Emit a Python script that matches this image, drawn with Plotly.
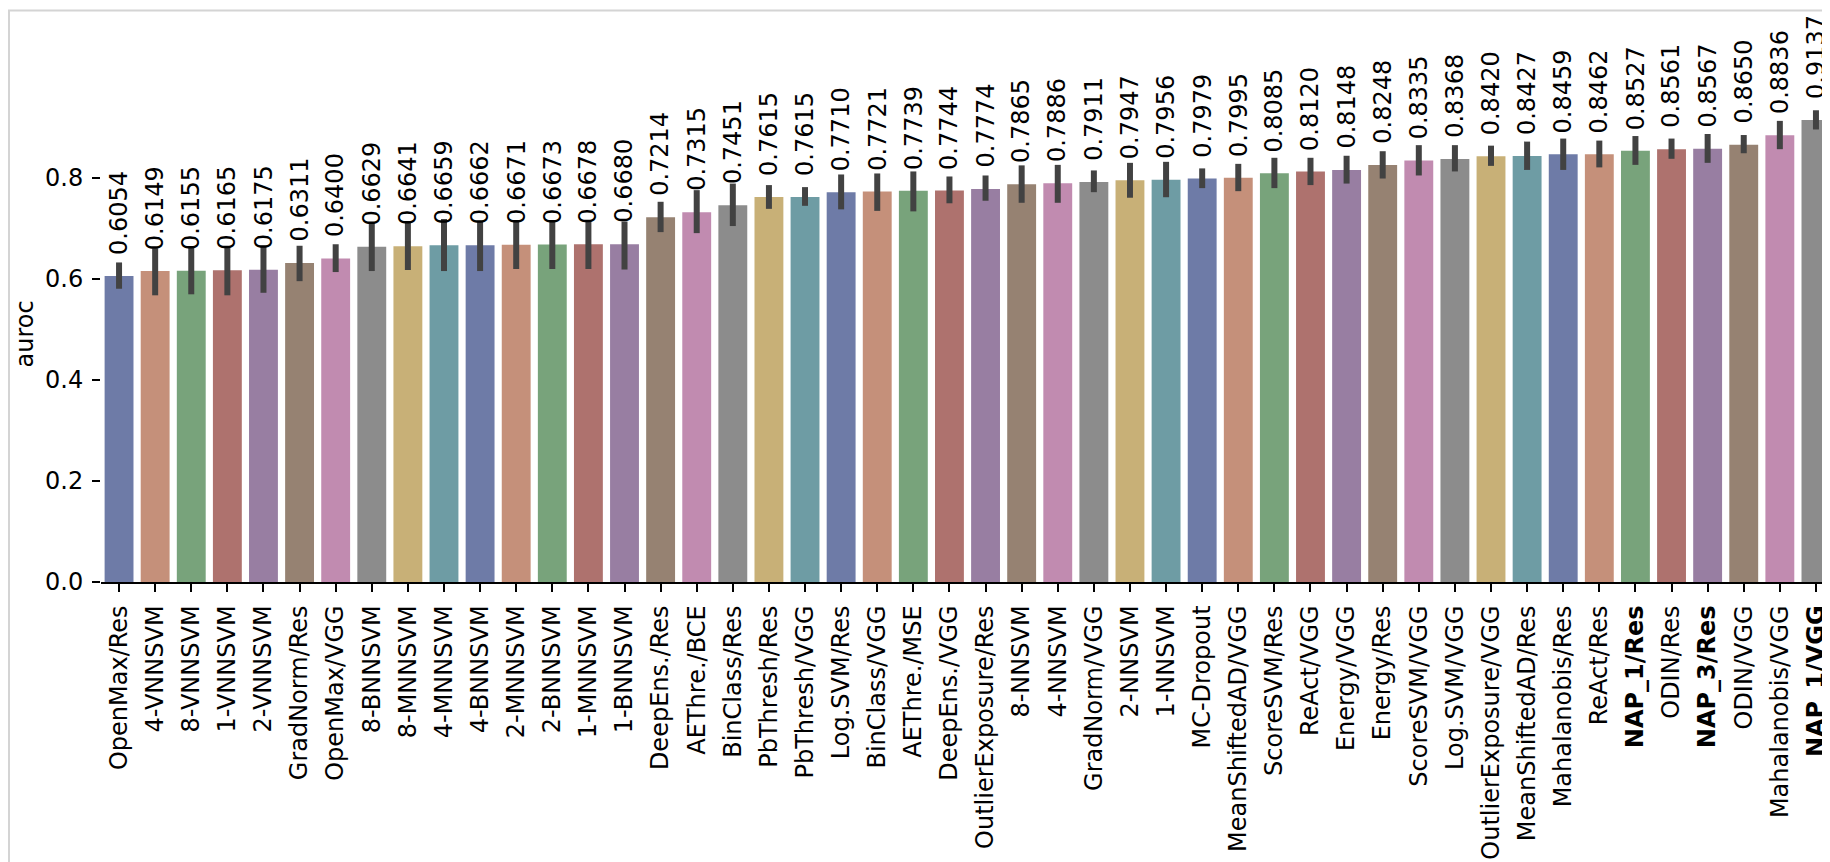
import plotly.graph_objects as go

methods = ["OpenMax/Res", "4-VNNSVM", "8-VNNSVM", "1-VNNSVM", "2-VNNSVM", "GradNorm/Res",
           "OpenMax/VGG", "8-BNNSVM", "8-MNNSVM", "4-MNNSVM", "4-BNNSVM", "2-MNNSVM",
           "2-BNNSVM", "1-MNNSVM", "1-BNNSVM", "DeepEns./Res", "AEThre./BCE", "BinClass/Res",
           "PbThresh/Res", "PbThresh/VGG", "Log.SVM/Res", "BinClass/VGG", "AEThre./MSE",
           "DeepEns./VGG", "OutlierExposure/Res", "8-NNSVM", "4-NNSVM", "GradNorm/VGG",
           "2-NNSVM", "1-NNSVM", "MC-Dropout", "MeanShiftedAD/VGG", "ScoreSVM/Res",
           "ReAct/VGG", "Energy/VGG", "Energy/Res", "ScoreSVM/VGG", "Log.SVM/VGG",
           "OutlierExposure/VGG", "MeanShiftedAD/Res", "Mahalanobis/Res", "ReAct/Res",
           "NAP_1/Res", "ODIN/Res", "NAP_3/Res", "ODIN/VGG", "Mahalanobis/VGG", "NAP_1/VGG"]

auroc = [0.6054, 0.6149, 0.6155, 0.6165, 0.6175, 0.6311, 0.6400, 0.6629, 0.6641, 0.6659,
         0.6662, 0.6671, 0.6673, 0.6678, 0.6680, 0.7214, 0.7315, 0.7451, 0.7615, 0.7615,
         0.7710, 0.7721, 0.7739, 0.7744, 0.7774, 0.7865, 0.7886, 0.7911, 0.7947, 0.7956,
         0.7979, 0.7995, 0.8085, 0.8120, 0.8148, 0.8248, 0.8335, 0.8368, 0.8420, 0.8427,
         0.8459, 0.8462, 0.8527, 0.8561, 0.8567, 0.8650, 0.8836, 0.9137]

ci_high = [0.632, 0.660, 0.663, 0.662, 0.663, 0.665, 0.668, 0.710, 0.710, 0.718,
           0.713, 0.713, 0.713, 0.713, 0.713, 0.752, 0.775, 0.788, 0.785, 0.781,
           0.806, 0.808, 0.812, 0.802, 0.804, 0.824, 0.825, 0.814, 0.829, 0.831,
           0.818, 0.827, 0.839, 0.839, 0.843, 0.852, 0.864, 0.864, 0.863, 0.871,
           0.877, 0.873, 0.882, 0.877, 0.886, 0.884, 0.912, 0.933]

ci_low = [0.580, 0.567, 0.569, 0.567, 0.572, 0.595, 0.613, 0.615, 0.617, 0.615,
          0.615, 0.619, 0.619, 0.619, 0.618, 0.692, 0.690, 0.704, 0.738, 0.744,
          0.737, 0.734, 0.733, 0.749, 0.754, 0.750, 0.750, 0.771, 0.760, 0.761,
          0.779, 0.773, 0.779, 0.785, 0.788, 0.798, 0.804, 0.812, 0.823, 0.815,
          0.815, 0.820, 0.825, 0.837, 0.829, 0.848, 0.856, 0.895]

bold_methods = ["NAP_1/Res", "NAP_3/Res", "NAP_1/VGG"]

palette = ["#6e7ba7", "#c5907a", "#78a37b", "#ae726e", "#987ea2",
           "#968272", "#c18bb0", "#8c8c8c", "#c8b077", "#6e9ca4"]

FONT = "DejaVu Sans"
W, H = 1830, 862
ML, MR, MB = 93, 4, 288
Y_TOP = 0.979
PX_PER_UNIT = 506.0
MT = H - MB - Y_TOP * PX_PER_UNIT

x_idx = list(range(len(methods)))
colors = [palette[i % len(palette)] for i in x_idx]
tick_text = [f"<b>{m}</b>" if m in bold_methods else m for m in methods]

fig = go.Figure()
fig.add_trace(go.Bar(
    x=x_idx, y=auroc,
    marker=dict(color=colors, line=dict(width=0)),
    width=0.8,
    error_y=dict(type="data", symmetric=False,
                 array=[h - v for h, v in zip(ci_high, auroc)],
                 arrayminus=[v - l for l, v in zip(ci_low, auroc)],
                 color="#424242", thickness=6, width=0),
    hoverinfo="skip",
))

for i, v in zip(x_idx, auroc):
    fig.add_annotation(x=i, y=v, text=f"{v:.4f}", textangle=-90, showarrow=False,
                       xanchor="center", yanchor="bottom", yshift=19,
                       font=dict(family=FONT, size=24, color="black"))

plot_w = W - ML - MR
plot_h = H - MT - MB
# y-axis title, centred on the axes height like matplotlib's ylabel
fig.add_annotation(xref="paper", yref="paper",
                   x=(16 - ML) / plot_w, y=0.5,
                   text="auroc", textangle=-90, showarrow=False,
                   xanchor="center", yanchor="middle",
                   font=dict(family=FONT, size=24, color="black"))

fig.add_shape(type="rect", xref="paper", yref="paper",
              x0=(1 - ML) / plot_w, x1=(W - 4 - ML) / plot_w,
              y0=(574 - (H - 3)) / plot_h, y1=(574 - 2) / plot_h,
              line=dict(color="#d4d4d4", width=2), fillcolor="rgba(0,0,0,0)", layer="below")

fig.update_layout(
    width=W, height=H,
    margin=dict(l=ML, r=MR, t=MT, b=MB, pad=0, autoexpand=False),
    paper_bgcolor="white", plot_bgcolor="white",
    showlegend=False,
    font=dict(family=FONT, size=24, color="black"),
    xaxis=dict(range=[-0.5, len(methods) - 0.5], tickmode="array", tickvals=x_idx,
               ticktext=tick_text, tickangle=-90, ticks="outside", ticklen=8,
               tickwidth=1.6, tickcolor="black", showline=True, linecolor="black",
               linewidth=1.6, showgrid=False, zeroline=False, ticklabelstandoff=4,
               automargin=False,
               tickfont=dict(family=FONT, size=24, color="black")),
    yaxis=dict(range=[0, Y_TOP], tickvals=[0, 0.2, 0.4, 0.6, 0.8],
               ticktext=["0.0", "0.2", "0.4", "0.6", "0.8"],
               ticks="outside", ticklen=8, tickwidth=1.6, tickcolor="black",
               showline=False, showgrid=False, zeroline=False, ticklabelstandoff=4,
               automargin=False,
               tickfont=dict(family=FONT, size=24, color="black")),
)

fig.write_html("out.html")
